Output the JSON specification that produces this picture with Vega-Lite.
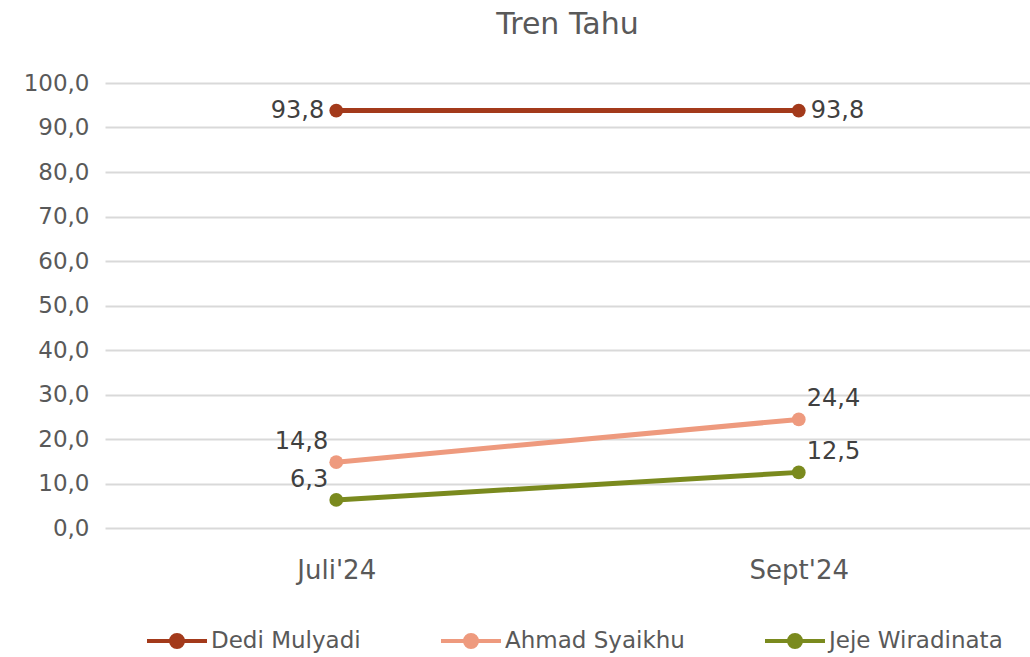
{
  "$schema": "https://vega.github.io/schema/vega-lite/v6.json",
  "autosize": {"type": "none"},
  "width": 925,
  "height": 445,
  "padding": {"left": 105, "top": 83, "right": 0, "bottom": 129},
  "background": "white",
  "title": {"text": "Tren Tahu", "fontSize": 30, "font": "DejaVu Sans", "fontWeight": "normal", "color": "#595959", "offset": 32, "anchor": "middle"},
  "config": {
    "view": {"stroke": null},
    "font": "DejaVu Sans",
    "locale": {"number": {"decimal": ",", "thousands": ".", "grouping": [3], "currency": ["", ""]}}
  },
  "data": {"values": [
    {"period": "Juli'24", "name": "Dedi Mulyadi", "value": 93.8},
    {"period": "Sept'24", "name": "Dedi Mulyadi", "value": 93.8},
    {"period": "Juli'24", "name": "Ahmad Syaikhu", "value": 14.8},
    {"period": "Sept'24", "name": "Ahmad Syaikhu", "value": 24.4},
    {"period": "Juli'24", "name": "Jeje Wiradinata", "value": 6.3},
    {"period": "Sept'24", "name": "Jeje Wiradinata", "value": 12.5}
  ]},
  "encoding": {
    "x": {"field": "period", "type": "ordinal", "scale": {"type": "point", "padding": 0.5}, "sort": ["Juli'24", "Sept'24"],
      "axis": {"title": null, "labelAngle": 0, "domain": false, "ticks": false, "labelFontSize": 26, "labelColor": "#595959", "labelPadding": 29, "grid": false}},
    "y": {"field": "value", "type": "quantitative", "scale": {"domain": [0, 100]},
      "axis": {"title": null, "values": [0,10,20,30,40,50,60,70,80,90,100], "format": ".1f", "domain": false, "ticks": false, "labelFontSize": 23, "labelColor": "#595959", "labelPadding": 16, "gridColor": "#d9d9d9", "gridWidth": 2}},
    "color": {"field": "name", "type": "nominal", "sort": ["Dedi Mulyadi", "Ahmad Syaikhu", "Jeje Wiradinata"],
      "scale": {"domain": ["Dedi Mulyadi", "Ahmad Syaikhu", "Jeje Wiradinata"], "range": ["#A33A1B", "#EE9A7E", "#7A8A1E"]},
      "legend": {"title": null, "orient": "none", "direction": "horizontal", "legendX": 40, "legendY": 526,
        "symbolType": "M-1,0H1M-0.2,0A0.2,0.2,0,1,1,0.2,0A0.2,0.2,0,1,1,-0.2,0Z", "symbolSize": 3600, "symbolStrokeWidth": 4,
        "labelFontSize": 23, "labelLimit": 400, "labelColor": "#595959", "labelOffset": 2, "columnPadding": 72}}
  },
  "layer": [
    {"mark": {"type": "line", "strokeWidth": 5}},
    {"mark": {"type": "point", "filled": true, "size": 190, "opacity": 1}},
    {"transform": [{"filter": "datum.name == 'Dedi Mulyadi'"}],
      "mark": {"type": "text", "fontSize": 24, "baseline": "middle",
        "align": {"expr": "datum.period == \"Juli'24\" ? 'right' : 'left'"},
        "dx": {"expr": "datum.period == \"Juli'24\" ? -12 : 12"}},
      "encoding": {"text": {"field": "value", "type": "quantitative", "format": ".1f"}, "color": {"value": "#404040"}}},
    {"transform": [{"filter": "datum.name != 'Dedi Mulyadi'"}],
      "mark": {"type": "text", "fontSize": 24, "baseline": "middle",
        "align": {"expr": "datum.period == \"Juli'24\" ? 'right' : 'left'"},
        "dx": {"expr": "datum.period == \"Juli'24\" ? -8 : 8"}, "dy": -20},
      "encoding": {"text": {"field": "value", "type": "quantitative", "format": ".1f"}, "color": {"value": "#404040"}}}
  ]
}
